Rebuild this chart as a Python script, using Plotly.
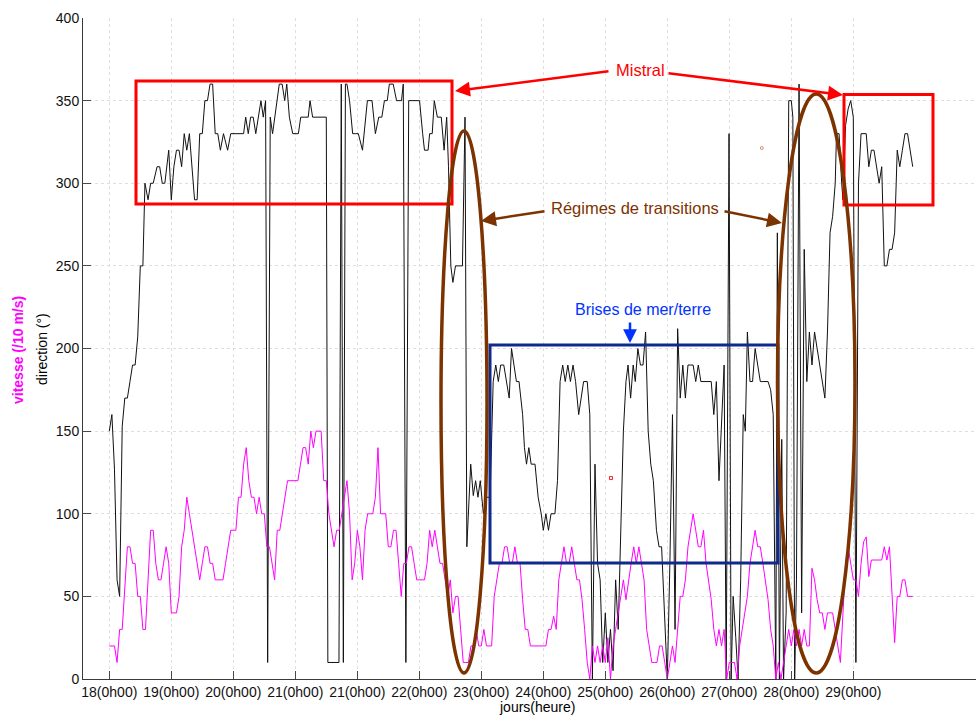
import plotly.graph_objects as go

# ---------------- data (hours since 18 (0h00)) ----------------
direction = [
    (0,150),(1,160),(2,127),(3,60),(4,50),(5,153),(6,170),(7,170),(8,180),(9,190),(10,190),(11,207),
    (12,250),(13,250),(13.8,300),(15,290),(16,300),(17,300),(18.5,310),(19.5,310),(20.5,300),(21.5,300),
    (23,320),(24,290),(25,310),(26,320),(27,320),(28,310),(29,330),(30,320),(31,330),(32,310),(33,290),
    (34,290),(35,330),(36,330),(37,350),(38,350),(39,360),(40,360),(41,330),(42,330),(43,320),(44.2,330),
    (45.8,320),(47,330),(48,330),(49,330),(50,330),(51,330),(52,330),(52.8,340),(53.8,330),(54.7,340),
    (55.7,340),(56.7,330),(57.7,340),(58.7,350),(59.6,340),(60.5,350),(61.3,10),(62.3,340),(63.2,330),
    (64.8,350),(65.8,360),(66.9,360),(67.9,350),(68.7,360),(69.7,340),(71,330),(72,330),(73.2,330),
    (74.1,340),(75,340),(76,340),(77,340),(77.7,350),(78.7,340),(80,340),(81,340),(82,340),(83,340),
    (84,340),(84.6,10),(86,10),(87,10),(88.9,10),(89.8,360),(90.6,10),(91.4,360),(92,360),(93,350),
    (94.2,330),(95.3,330),(96.4,330),(98,320),(99.9,350),(101.7,350),(103,330),(104.3,340),(105.5,340),
    (106.5,350),(107.6,350),(108.4,360),(109.9,360),(111.2,350),(113.1,350),(113.8,360),(114.8,10),
    (115.9,350),(117,350),(118,350),(119,350),(120.1,350),(121.3,330),(122,320),(123.4,320),(124,330),
    (125,330),(125.8,350),(127,340),(128.5,340),(129.6,320),(130.6,340),(131.3,310),(132.2,250),(133,240),
    (134,250),(135,250),(136.7,250),(137.7,340),(138.4,80),(139.9,130),(140.9,111),(141.8,120),(142.7,110),
    (143.6,120),(144.8,100),(146,110),(147.4,110),(148.6,180),(149.6,190),(150.6,180),(151.5,190),
    (152.7,190),(153.7,180),(154.8,170),(155.7,200),(156.7,190),(157.6,180),(158.6,180),(160,160),
    (160.7,140),(161.5,130),(162.4,140),(163.3,130),(164.8,130),(166,110),(167.2,100),(168,90),(169,100),
    (170,90),(171,100),(172.5,100),(173.5,120),(174.5,180),(175.5,190),(176.5,180),(177.5,190),(178.5,180),
    (179.5,190),(180.5,180),(181.7,160),(182.6,170),(183.6,180),(185,180),(186,160),(187,0),(188,130),
    (189,70),(190,60),(191,10),(192,40),(193,10),(194,30),(195,5),(196,60),(197,30),(198,100),(199,150),
    (200,180),(200.8,190),(201.8,170),(202.8,190),(203.6,180),(204.6,200),(205.6,190),(206.6,190),
    (207.6,210),(208.6,150),(209.6,130),(210.6,120),(211.8,90),(212.8,80),(213.8,80),(214.8,40),(216,0),
    (217,70),(218,160),(219,30),(220,212),(221,170),(222,190),(223,170),(224,190),(225,190),(226,190),
    (227,180),(228,190),(229,180),(230,180),(231,180),(232,180),(233,180),(234,160),(235,180),(236,120),
    (237,160),(238,190),(238.8,0),(239.9,330),(240.7,0),(241.5,50),(242.5,25),(243.4,0),(244.4,60),
    (245.4,160),(246.2,150),(247,210),(248,180),(249,180),(250,200),(251,190),(252,180),(253,180),
    (254,180),(255,180),(256,175),(257,160),(258,0),(258.6,270),(259.4,0),(260.3,145),(261,0),(262,40),
    (263,350),(264,350),(264.6,340),(265.3,0),(266,60),(267,360),(268,40),(269,260),(270,180),(271,210),
    (272,190),(273,210),(274,200),(275,190),(276,180),(277,170),(278,210),(279,270),(280,280),(281,300),
    (281.5,330),(282.5,330),(283.5,300),(284,290),(285,335),(286,345),(287,350),(288,340),(289,10),
    (290,300),(291,330),(292,330),(293,330),(294,310),(295,320),(296,320),(297,310),(298,300),(299,310),
    (300,250),(301,250),(302,260),(303,260),(304,270),(305,320),(306,310),(307,320),(308,330),(309,330),
    (310,320),(311,310),
]
dir_hours = [p[0] for p in direction]
dir_values = [p[1] for p in direction]

speed_values = [
    20,20,20,10,30,30,52,80,80,70,70,50,50,30,30,62,90,90,70,60,60,70,80,70,      # 0-23
    40,40,40,50,80,90,110,100,90,80,70,60,70,80,80,70,70,60,60,60,60,70,80,90,    # 24-47
    90,90,110,110,130,140,120,110,110,100,110,100,100,80,80,70,60,90,90,100,110,120,120,120,  # 48-71
    120,120,130,140,140,130,150,140,150,150,150,120,120,100,90,80,90,90,100,110,120,100,60,70,  # 72-95
    90,80,60,90,100,100,100,110,140,100,100,100,80,80,90,90,70,50,70,70,80,80,70,60,  # 96-119
    60,60,60,70,90,80,90,80,70,70,60,50,60,40,50,50,30,10,10,10,20,20,30,20,      # 120-143
    20,30,20,20,20,50,60,70,70,80,80,70,70,80,70,70,48,30,30,20,20,20,20,20,      # 144-167
    20,20,30,30,38,30,60,70,80,70,70,80,70,60,60,48,30,10,0,20,10,20,10,20,       # 168-191
    10,25,0,20,30,40,48,60,48,60,70,80,70,80,70,60,30,20,10,10,10,20,20,10,       # 192-215
    0,10,20,10,30,50,50,60,80,90,100,90,80,80,90,70,60,48,30,20,30,20,30,0,       # 216-239
    10,10,10,0,20,30,40,50,70,80,90,80,80,70,60,48,30,20,0,10,0,10,20,30,         # 240-263
    20,30,20,30,20,30,20,20,67,60,48,40,40,30,40,40,40,30,20,10,40,70,80,70,      # 264-287
    60,60,50,70,83,86,62,72,72,72,72,72,80,72,80,50,22,50,50,60,60,50,50,50,      # 288-311
]
speed_hours = list(range(len(speed_values)))

tick_hours = [0, 24, 48, 72, 96, 120, 144, 168, 192, 216, 240, 264, 288]
tick_labels = ["18(0h00)", "19(0h00)", "20(0h00)", "21(0h00)", "21(0h00)", "22(0h00)",
               "23(0h00)", "24(0h00)", "25(0h00)", "26(0h00)", "27(0h00)", "28(0h00)", "29(0h00)"]

stray_hours = [194.2, 252.6]
stray_values = [121.6, 321.3]

# ---------------- geometry helpers (pixel -> data / paper) ----------------
W, H = 976, 717
L, R, T, B = 83, 0, 18, 38
X0PX, PXH = 109.3, 62 / 24.0     # pixel of hour 0, pixels per hour
Y0PX, PXV = 679.0, 661 / 400.0


def hx(px):
    return (px - X0PX) / PXH


def vy(py):
    return (Y0PX - py) / PXV


def pxp(px):
    return (px - L) / (W - L - R)


def pyp(py):
    return (H - B - py) / (H - T - B)


FONT = "Liberation Sans, Arial, Helvetica, sans-serif"
RED = "#ff0000"
BROWN = "#7d3300"
NAVY = "#0d2a8c"
BLUE = "#0033ff"
MAGENTA = "#ff00ff"

fig = go.Figure()
fig.add_trace(go.Scatter(x=dir_hours, y=dir_values, mode="lines",
                         line=dict(color="#111111", width=1), hoverinfo="skip"))
fig.add_trace(go.Scatter(x=speed_hours, y=speed_values, mode="lines",
                         line=dict(color=MAGENTA, width=1), hoverinfo="skip"))
fig.add_trace(go.Scatter(x=stray_hours, y=stray_values, mode="markers",
                         marker=dict(symbol=["square-open", "circle-open"], size=3,
                                     color=["#ff2020", "#d09070"], line=dict(width=1)),
                         hoverinfo="skip"))

shapes = [
    dict(type="rect", x0=hx(136), x1=hx(452), y0=vy(204), y1=vy(81),
         line=dict(color=RED, width=3)),
    dict(type="rect", x0=hx(844), x1=hx(933), y0=vy(205), y1=vy(94.5),
         line=dict(color=RED, width=3)),
    dict(type="rect", x0=hx(490), x1=hx(778), y0=vy(563), y1=vy(345),
         line=dict(color=NAVY, width=3)),
    dict(type="circle", x0=hx(441), x1=hx(487), y0=vy(673), y1=vy(131),
         line=dict(color=BROWN, width=3.5)),
    dict(type="circle", x0=hx(777.5), x1=hx(855), y0=vy(673), y1=vy(94),
         line=dict(color=BROWN, width=3.5)),
]


def arrow(tail, head, color, width=2.5, size=1.2):
    return dict(x=hx(head[0]), y=vy(head[1]), ax=hx(tail[0]), ay=vy(tail[1]),
                xref="x", yref="y", axref="x", ayref="y", text="", showarrow=True,
                arrowhead=2, arrowsize=size, arrowwidth=width, arrowcolor=color,
                standoff=0, startstandoff=0)


annotations = [
    arrow((610, 71), (455, 91), RED),
    arrow((667, 73), (843, 95), RED),
    arrow((546, 211), (481, 221), BROWN),
    arrow((723, 211), (782, 223), BROWN),
    arrow((630, 321), (630, 343), BLUE, width=2.5, size=1.1),
    dict(x=pxp(640), y=pyp(70), xref="paper", yref="paper", text="Mistral", showarrow=False,
         font=dict(family=FONT, size=16.5, color=RED), xanchor="center", yanchor="middle"),
    dict(x=pxp(635), y=pyp(208), xref="paper", yref="paper", text="Régimes de transitions",
         showarrow=False, font=dict(family=FONT, size=16.5, color=BROWN),
         xanchor="center", yanchor="middle"),
    dict(x=pxp(643), y=pyp(309), xref="paper", yref="paper", text="Brises de mer/terre",
         showarrow=False, font=dict(family=FONT, size=16, color=BLUE),
         xanchor="center", yanchor="middle"),
    dict(x=pxp(537), y=pyp(717), xref="paper", yref="paper", text="jours(heure)",
         showarrow=False, font=dict(family=FONT, size=14, color="#000000"),
         xanchor="center", yanchor="bottom"),
    dict(x=pxp(42), y=pyp(349), xref="paper", yref="paper", text="direction (°)",
         showarrow=False, textangle=-90, font=dict(family=FONT, size=14, color="#000000"),
         xanchor="center", yanchor="middle"),
    dict(x=pxp(18), y=pyp(350), xref="paper", yref="paper", text="<b>vitesse (/10 m/s)</b>",
         showarrow=False, textangle=-90, font=dict(family=FONT, size=14, color=MAGENTA),
         xanchor="center", yanchor="middle"),
]

axis_common = dict(showline=True, linecolor="#3a3a3a", linewidth=1, ticks="inside",
                   ticklen=8, tickcolor="#4a4a4a", tickwidth=1, showgrid=True,
                   gridcolor="#dedede", griddash="dot", gridwidth=1, zeroline=False,
                   mirror=False, tickfont=dict(family=FONT, size=14, color="#111111"))

fig.update_layout(
    width=W, height=H, margin=dict(l=L, r=R, t=T, b=B, pad=0),
    paper_bgcolor="white", plot_bgcolor="white", showlegend=False,
    font=dict(family=FONT),
    xaxis=dict(range=[hx(L), hx(W - R)], tickmode="array", tickvals=tick_hours,
               ticktext=tick_labels, **axis_common),
    yaxis=dict(range=[0, 400], tickmode="linear", tick0=0, dtick=50, **axis_common),
    shapes=shapes, annotations=annotations,
)

fig.write_html("out.html")
